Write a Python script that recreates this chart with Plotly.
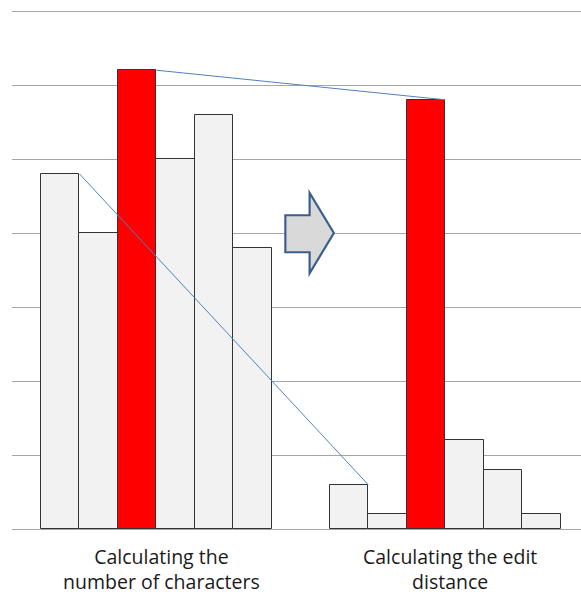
import plotly.graph_objects as go

# Bar heights for the two methods (six candidates each, third one highlighted)
categories = ["Calculating the<br>number of characters", "Calculating the edit<br>distance"]
char_count_values = [4.8, 4.0, 6.2, 5.0, 5.6, 3.8]
edit_distance_values = [0.6, 0.2, 5.8, 1.2, 0.8, 0.2]
highlight_index = 2

n = len(char_count_values)
group_gap = 1.5
left_x = [i + 0.5 for i in range(n)]
right_x = [n + group_gap + i + 0.5 for i in range(n)]
group_centers = [n / 2, n + group_gap + n / 2]

GREY = "#f2f2f2"
RED = "#ff0000"
OUTLINE = "#333333"
BLUE = "#4f81bd"


def colors(vals):
    return [RED if i == highlight_index else GREY for i in range(len(vals))]


fig = go.Figure()
for xs, vals in ((left_x, char_count_values), (right_x, edit_distance_values)):
    fig.add_trace(go.Bar(
        x=xs, y=vals, width=1.0,
        marker=dict(color=colors(vals), line=dict(color=OUTLINE, width=1)),
        showlegend=False, hoverinfo="skip",
    ))

# Connector lines between corresponding bars of the two groups
connectors = [
    (left_x[highlight_index] + 0.5, char_count_values[highlight_index],
     right_x[highlight_index] + 0.5, edit_distance_values[highlight_index]),
    (left_x[0] + 0.5, char_count_values[0], right_x[0] + 0.5, edit_distance_values[0]),
]
for x0, y0, x1, y1 in connectors:
    fig.add_trace(go.Scatter(
        x=[x0, x1], y=[y0, y1], mode="lines",
        line=dict(color=BLUE, width=1), showlegend=False, hoverinfo="skip",
    ))

# Block arrow between the groups
ax0, ax1, ax2 = 6.35, 6.98, 7.61
ay_shaft_top, ay_shaft_bot = 4.24, 3.74
ay_head_top, ay_head_bot, ay_tip = 4.54, 3.455, 4.0
arrow_path = (
    f"M {ax0},{ay_shaft_top} L {ax1},{ay_shaft_top} L {ax1},{ay_head_top} "
    f"L {ax2},{ay_tip} L {ax1},{ay_head_bot} L {ax1},{ay_shaft_bot} "
    f"L {ax0},{ay_shaft_bot} Z"
)
fig.add_shape(type="path", path=arrow_path, xref="x", yref="y",
              fillcolor="#d9d9d9", line=dict(color="#3b5f8c", width=2.2),
              layer="above")

plot_width = 581 - 12
px_per_unit = 38.5
x_start = -group_gap / 2
y_px_per_unit = 74.0
top_pad_px = 4

fig.update_layout(
    width=581, height=594,
    margin=dict(l=12, r=0, t=11 - top_pad_px, b=65),
    paper_bgcolor="white", plot_bgcolor="white",
    bargap=0,
    font=dict(family="Open Sans", size=19.5, color="#1a1a1a"),
    xaxis=dict(
        range=[x_start, x_start + plot_width / px_per_unit],
        tickvals=group_centers, ticktext=categories,
        showgrid=False, zeroline=False, showline=False, ticks="",
        ticklabelshift=5, ticklabelstandoff=14,
        fixedrange=True,
    ),
    yaxis=dict(
        range=[0, 7 + top_pad_px / y_px_per_unit], dtick=1, tick0=0,
        showgrid=True, gridcolor="#a6a6a6", gridwidth=1,
        zeroline=True, zerolinecolor="#a6a6a6", zerolinewidth=1,
        showticklabels=False, ticks="", showline=False,
        fixedrange=True,
    ),
)

fig.write_html("out.html")
